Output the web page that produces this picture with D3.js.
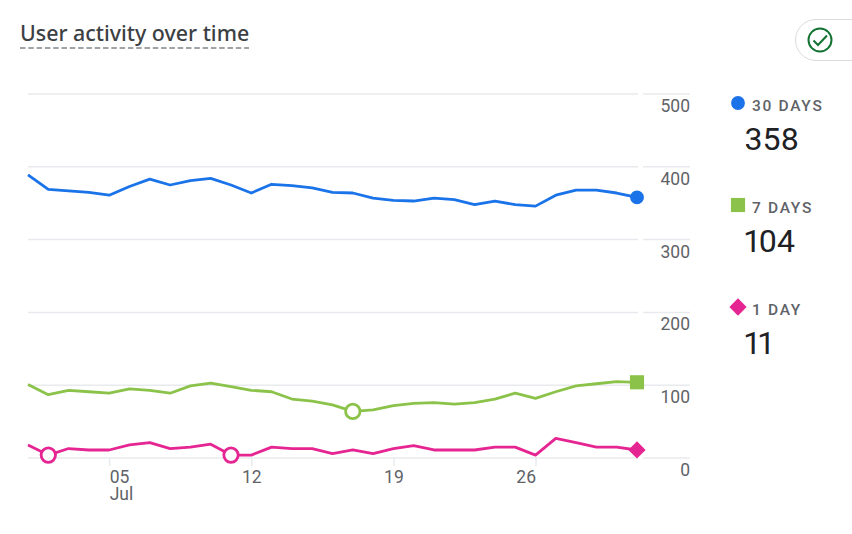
<!DOCTYPE html>
<html>
<head>
<meta charset="utf-8">
<script src="https://cdn.jsdelivr.net/npm/d3@7/dist/d3.min.js"></script>
<style>
  html, body { margin: 0; padding: 0; background: #fff; }
  text { font-family: Roboto, sans-serif; }
</style>
</head>
<body>
<div id="chart"></div>
<script>
// Values
const days = d3.range(1, 32);
const thirtyDays = [389, 369, 367, 365, 361, 373, 383, 375, 381, 384, 375, 364, 376, 374, 371, 365,
                    364, 357, 354, 353, 357, 355, 348, 353, 348, 346, 361, 368, 368, 364, 358];
const sevenDays = [101, 87, 93, 91, 89, 95, 93, 89, 99, 103, 98, 93, 91, 81, 78, 73,
                   64, 66, 72, 75, 76, 74, 76, 81, 89, 82, 91, 99, 102, 105, 104];
const oneDay = [18, 4, 13, 11, 11, 18, 21, 13, 15, 19, 4, 4, 15, 13, 13, 6,
                11, 6, 13, 17, 11, 11, 11, 15, 15, 4, 27, 21, 15, 15, 11];

const yTicks = [0, 100, 200, 300, 400, 500];
const xTicks = [5, 12, 19, 26];
const xTickLabels = ["05", "12", "19", "26"];
const xTickAnchors = ["start", "middle", "middle", "end"];

const legendLabels = ["30 DAYS", "7 DAYS", "1 DAY"];
const legendValues = ["358", "104", "11"];
const colors = ["#1a73e8", "#8bc34a", "#e52592"];
const symbols = [d3.symbolCircle, d3.symbolSquare, d3.symbolDiamond2];
const symbolSizes = [150, 200, 190];

// Open circles on the lines: [series index, day]
const openMarkers = [[2, 2], [2, 11], [1, 17]];

const svg = d3.select("#chart").append("svg")
              .attr("width", 852)
              .attr("height", 534)
              .style("display", "block");

const x = d3.scaleLinear().domain([1, 31]).range([28, 637]);
const y = d3.scaleLinear().domain([0, 500]).range([458, 94]);

// Gridlines
const gridColor = "#e8eaed";
svg.selectAll("line.grid")
   .data(yTicks)
   .enter().append("line")
   .attr("class", "grid")
   .attr("x1", 28)
   .attr("x2", 690)
   .attr("y1", d => y(d))
   .attr("y2", d => y(d))
   .attr("stroke", gridColor)
   .attr("stroke-width", 1.5);

// Little white gap in the gridlines where the plot ends
svg.append("rect")
   .attr("x", 638).attr("y", 90).attr("width", 5).attr("height", 372)
   .attr("fill", "#fff");

// Y axis labels sit below their gridlines
const yAxis = d3.axisRight(y).tickValues(yTicks).tickSize(0).tickPadding(0);
const yG = svg.append("g").attr("transform", "translate(690,0)").call(yAxis);
yG.select(".domain").remove();
yG.selectAll("text")
  .attr("x", 0)
  .attr("dy", 17.6)
  .attr("text-anchor", "end")
  .attr("fill", "#5f6368")
  .style("font-family", "Roboto, sans-serif")
  .style("font-size", "17.5px");

// X axis
const xAxis = d3.axisBottom(x).tickValues(xTicks)
                .tickFormat((d, i) => xTickLabels[i])
                .tickSize(8).tickPadding(5);
const xG = svg.append("g").attr("transform", "translate(0,458)").call(xAxis);
xG.select(".domain").remove();
xG.selectAll("line").attr("stroke", gridColor).attr("stroke-width", 1.5);
xG.selectAll("text")
  .attr("text-anchor", (d, i) => xTickAnchors[i])
  .attr("fill", "#5f6368")
  .style("font-family", "Roboto, sans-serif")
  .style("font-size", "17.5px");
// Month goes under the first tick label
xG.select(".tick text").append("tspan")
  .attr("x", 0)
  .attr("dy", 17)
  .text("Jul");

// Lines
const series = [thirtyDays, sevenDays, oneDay];
const line = d3.line().x((d, i) => x(days[i])).y(d => y(d));

svg.selectAll("path.series")
   .data(series)
   .enter().append("path")
   .attr("class", "series")
   .attr("d", line)
   .attr("fill", "none")
   .attr("stroke", (d, i) => colors[i])
   .attr("stroke-width", 2.8)
   .attr("stroke-linejoin", "round");

// End markers
svg.selectAll("path.end")
   .data(series)
   .enter().append("path")
   .attr("class", "end")
   .attr("d", (d, i) => d3.symbol().type(symbols[i]).size(symbolSizes[i])())
   .attr("transform", d => "translate(" + x(31) + "," + y(d[30]) + ")")
   .attr("fill", (d, i) => colors[i]);

// Open circles
svg.selectAll("circle.open")
   .data(openMarkers)
   .enter().append("circle")
   .attr("class", "open")
   .attr("cx", d => x(d[1]))
   .attr("cy", d => y(series[d[0]][d[1] - 1]))
   .attr("r", 7.2)
   .attr("fill", "#fff")
   .attr("stroke", d => colors[d[0]])
   .attr("stroke-width", 2.8);

// Title
svg.append("text")
   .attr("x", 20)
   .attr("y", 41)
   .attr("fill", "#3c4043")
   .style("font-family", "'Noto Sans', sans-serif")
   .style("font-size", "21.4px")
   .style("font-weight", 500)
   .text("User activity over time");
svg.append("line")
   .attr("x1", 20).attr("x2", 249)
   .attr("y1", 48).attr("y2", 48)
   .attr("stroke", "#80868b")
   .attr("stroke-width", 1.5)
   .attr("stroke-dasharray", "5.5 2.8");

// Legend
const legendTop = [103, 205, 307];
const legend = svg.selectAll("g.legend")
   .data(legendLabels)
   .enter().append("g")
   .attr("class", "legend")
   .attr("transform", (d, i) => "translate(738," + legendTop[i] + ")");
legend.append("path")
      .attr("d", (d, i) => d3.symbol().type(symbols[i]).size(symbolSizes[i])())
      .attr("fill", (d, i) => colors[i]);
legend.append("text")
      .attr("x", 14)
      .attr("y", 8)
      .attr("fill", "#5f6368")
      .style("font-size", "15.5px")
      .style("font-weight", 500)
      .style("letter-spacing", "1.7px")
      .text(d => d);
legend.append("text")
      .attr("x", 6.5)
      .attr("y", 47)
      .attr("fill", "#202124")
      .style("font-size", "32px")
      .style("font-variant-numeric", "proportional-nums")
      .text((d, i) => legendValues[i]);

// Check button in the corner, cut by the page edge
svg.append("rect")
   .attr("x", 795.5).attr("y", 19.5)
   .attr("width", 90).attr("height", 41)
   .attr("rx", 20.5)
   .attr("fill", "#fff")
   .attr("stroke", "#dadce0");
svg.append("circle")
   .attr("cx", 820).attr("cy", 40).attr("r", 11.5)
   .attr("fill", "none")
   .attr("stroke", "#137333")
   .attr("stroke-width", 2);
svg.append("path")
   .attr("d", "M813.5,40.5 L818,45 L827,35.5")
   .attr("fill", "none")
   .attr("stroke", "#137333")
   .attr("stroke-width", 2);
</script>
</body>
</html>
